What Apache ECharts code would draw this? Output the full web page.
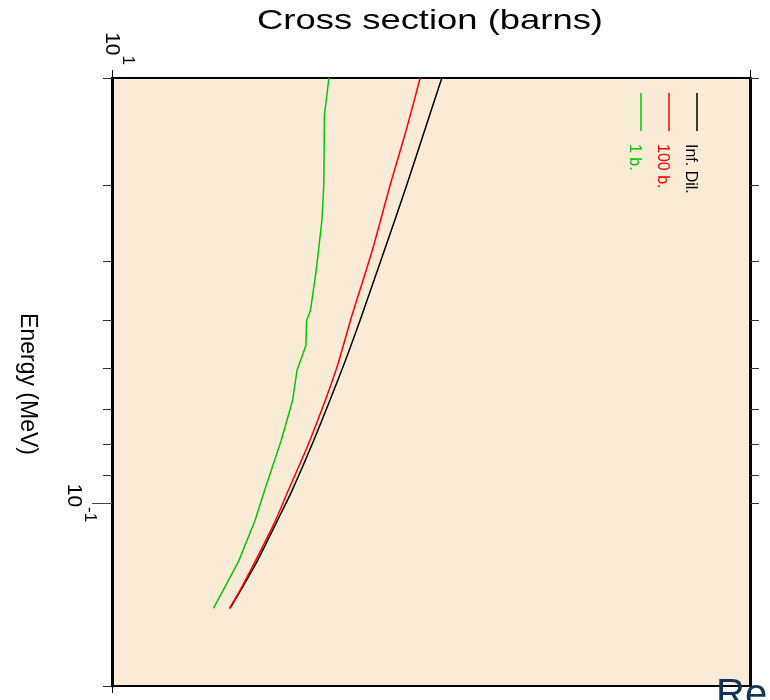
<!DOCTYPE html>
<html><head><meta charset="utf-8">
<script src="https://cdn.jsdelivr.net/npm/echarts@6/dist/echarts.min.js"></script>
<style>html,body{margin:0;padding:0;background:#fff}#c{width:770px;height:700px}</style>
</head><body><div id="c"></div>
<script>
// Energy (MeV) sample points
const energyBR = [2.0, 2.44, 3.0, 3.84, 5.0, 6.05, 7.9, 9.55, 10.7, 12.5, 13.96, 14.9];
// Cross sections (barns) for the infinite-dilution and 100 b. curves
const infDil = [5.17, 4.90, 4.62, 4.27, 3.89, 3.60, 3.16, 2.82, 2.59, 2.27, 2.01, 1.85];
const b100   = [4.83, 4.61, 4.36, 4.08, 3.74, 3.51, 3.10, 2.76, 2.56, 2.24, 2.00, 1.84];
// 1 b. curve
const energyG = [2.0, 2.30, 3.0, 3.43, 4.15, 4.83, 5.01, 5.51, 6.05, 6.79, 7.90, 9.55, 10.7, 12.5, 14.9];
const b1      = [3.40, 3.33, 3.32, 3.29, 3.20, 3.11, 3.05, 3.04, 2.90, 2.83, 2.65, 2.39, 2.24, 1.98, 1.59];

const seriesNames = ['Inf. Dil.', '100 b.', '1 b.'];
const seriesColors = ['#000000', '#ff0000', '#00c800'];

const energyTicks = [2, 3, 4, 5, 6, 7, 8, 9, 10, 20];
const energyMajor = [10];
const csTicks = [0, 10];
const labelTop = ['10', '1'];
const labelLeft = ['10', '-1'];

const FF = '"Liberation Sans", Arial, sans-serif';
const rich = {
  b: {fontSize: 21, fontFamily: FF, color: '#000', verticalAlign: 'bottom', lineHeight: 21},
  s: {fontSize: 17, fontFamily: FF, color: '#000', verticalAlign: 'bottom', lineHeight: 17, padding: [0, 0, 18, 0]}
};

function zip(xs, ys) { return xs.map((x, i) => [x, ys[i]]); }

const yBase = {type: 'log', logBase: 10, min: 2, max: 20, inverse: true,
  splitLine: {show: false}, minorTick: {show: false}, axisLabel: {show: false},
  axisTick: {show: false}, axisLine: {show: false}};
const xBase = {type: 'value', min: 0, max: 10, splitLine: {show: false},
  axisLabel: {show: false}, axisTick: {show: false}, axisLine: {show: false, onZero: false}};

const chart = echarts.init(document.getElementById('c'));
const legendGraphics = [];
seriesNames.forEach((n, i) => {
  const lx = 697 - i * 28;
  legendGraphics.push({type: 'line', shape: {x1: lx, y1: 93, x2: lx, y2: 131},
    style: {stroke: seriesColors[i], lineWidth: 1.5}, z: 100});
  legendGraphics.push({type: 'text', x: lx + 1, y: 144, rotation: -Math.PI / 2, z: 100,
    style: {text: n, font: '16px ' + FF, fill: seriesColors[i],
      textAlign: 'left', textVerticalAlign: 'top', align: 'left', verticalAlign: 'top'}});
});

chart.setOption({
  animation: false,
  backgroundColor: '#ffffff',
  grid: {left: 112, right: 20, top: 78, bottom: 14, show: true,
    backgroundColor: '#FAEBD7', borderWidth: 0},
  xAxis: [
    Object.assign({}, xBase, {position: 'bottom',
      axisLine: {show: true, onZero: false, lineStyle: {color: '#000', width: 2}},
      axisTick: {show: true, customValues: csTicks, length: 7, lineStyle: {color: '#000', width: 1}}}),
    Object.assign({}, xBase, {position: 'top',
      axisLine: {show: true, onZero: false, lineStyle: {color: '#000', width: 2}},
      axisTick: {show: true, customValues: csTicks, length: 8, lineStyle: {color: '#000', width: 1}},
      axisLabel: {show: true, customValues: [0], rotate: 90, margin: 13,
        formatter: () => '{b|' + labelTop[0] + '}{s|' + labelTop[1] + '}', rich: rich}})
  ],
  yAxis: [
    Object.assign({}, yBase, {position: 'left',
      axisLine: {show: true, onZero: false, lineStyle: {color: '#000', width: 3}},
      axisTick: {show: true, customValues: energyTicks, length: 9, lineStyle: {color: '#333', width: 1}}}),
    Object.assign({}, yBase, {position: 'left',
      axisTick: {show: true, customValues: energyMajor, length: 20, lineStyle: {color: '#444', width: 1}},
      axisLabel: {show: true, customValues: energyMajor, rotate: -90, margin: 28,
        formatter: () => '{b|' + labelLeft[0] + '}{s|' + labelLeft[1] + '}', rich: rich}}),
    Object.assign({}, yBase, {position: 'right',
      axisLine: {show: true, onZero: false, lineStyle: {color: '#000', width: 3}},
      axisTick: {show: true, customValues: energyTicks, length: 9, lineStyle: {color: '#333', width: 1}}})
  ],
  series: [
    {name: seriesNames[0], type: 'line', data: zip(infDil, energyBR), showSymbol: false, smooth: 0.25,
      lineStyle: {color: seriesColors[0], width: 1.5}, z: 5},
    {name: seriesNames[1], type: 'line', data: zip(b100, energyBR), showSymbol: false, smooth: 0.25,
      lineStyle: {color: seriesColors[1], width: 1.5}, z: 6},
    {name: seriesNames[2], type: 'line', data: zip(b1, energyG), showSymbol: false,
      lineStyle: {color: seriesColors[2], width: 1.5}, z: 6}
  ],
  graphic: [
    {type: 'text', x: 430, y: 21, scaleX: 1.3, z: 100,
      style: {text: 'Cross section (barns)', font: '28px ' + FF, fill: '#000',
        textAlign: 'center', textVerticalAlign: 'middle', align: 'center', verticalAlign: 'middle'}},
    {type: 'text', x: 27, y: 384, rotation: -Math.PI / 2, z: 100,
      style: {text: 'Energy (MeV)', font: '23px ' + FF, fill: '#000',
        textAlign: 'center', textVerticalAlign: 'middle', align: 'center', verticalAlign: 'middle'}},
    {type: 'text', x: 716, y: 676, z: 100,
      style: {text: 'Re', font: '40px ' + FF, fill: '#0f3659',
        textAlign: 'left', textVerticalAlign: 'top', align: 'left', verticalAlign: 'top'}}
  ].concat(legendGraphics)
});
</script></body></html>
